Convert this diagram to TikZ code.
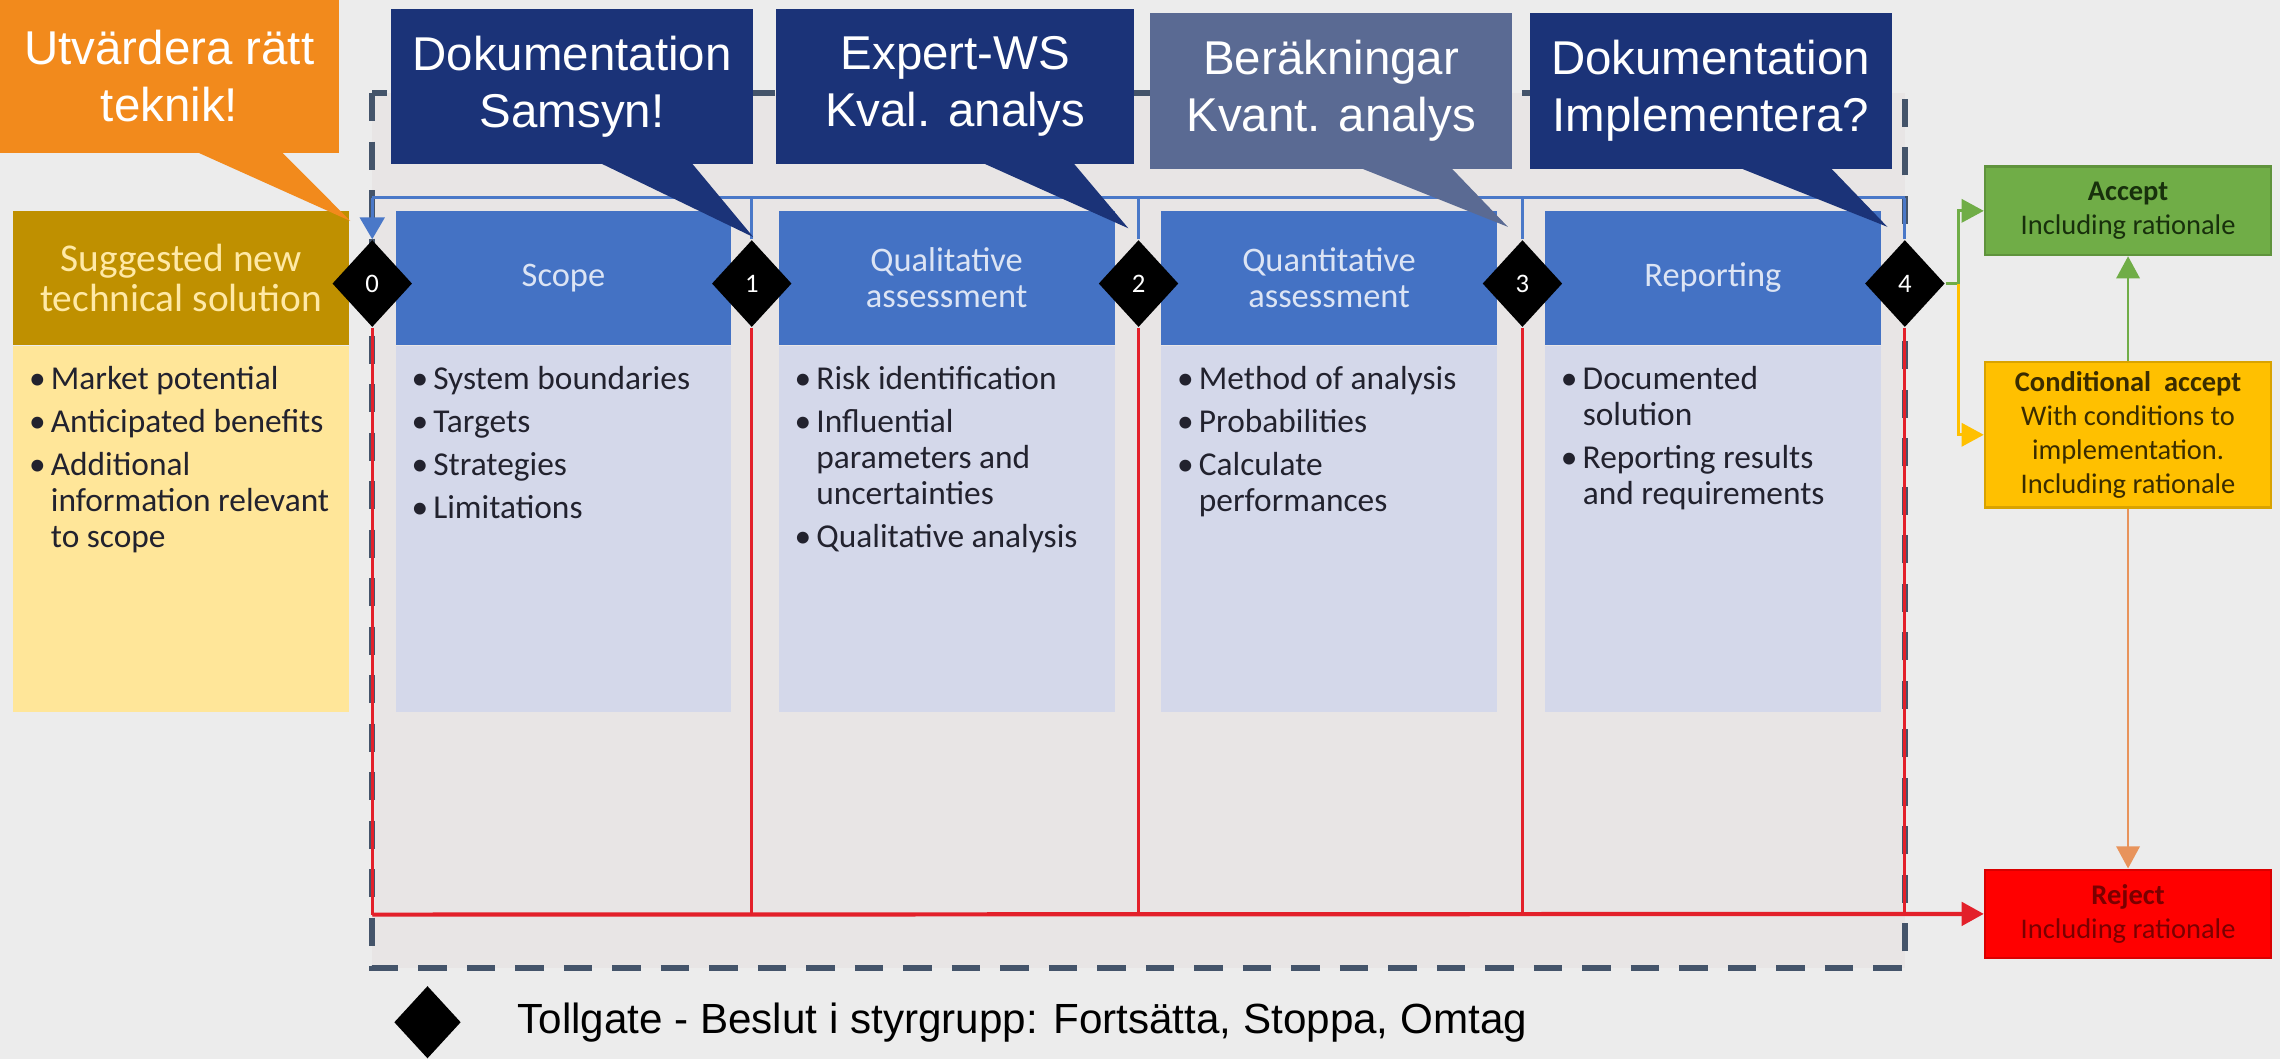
\documentclass[tikz,border=0pt]{standalone}
\usepackage{fontspec}
\setmainfont{Carlito}
\newfontfamily\arialfont{Liberation Sans}
\usetikzlibrary{positioning,calc,arrows.meta,shapes.geometric}

\definecolor{pagecol}{HTML}{ECECEC}
\definecolor{framecol}{HTML}{E8E5E5}
\definecolor{dashcol}{HTML}{44546A}
\definecolor{orangecol}{HTML}{F28A1C}
\definecolor{navycol}{HTML}{1B3378}
\definecolor{slatecol}{HTML}{5A6A93}
\definecolor{headcol}{HTML}{4472C4}
\definecolor{headtextcol}{HTML}{DCE4F4}
\definecolor{bodycol}{HTML}{D4D8EA}
\definecolor{goldcol}{HTML}{BF9000}
\definecolor{goldtextcol}{HTML}{FFE9A6}
\definecolor{sandcol}{HTML}{FFE699}
\definecolor{listcol}{HTML}{22222E}
\definecolor{loopcol}{HTML}{4A78C8}
\definecolor{stopcol}{HTML}{E3202A}
\definecolor{acceptcol}{HTML}{70AD47}
\definecolor{condcol}{HTML}{FFC000}
\definecolor{rejectcol}{HTML}{FF0000}
\definecolor{linkcol}{HTML}{E8935B}
\definecolor{acctextcol}{HTML}{18300C}
\definecolor{condtextcol}{HTML}{3A2C00}
\definecolor{rejtextcol}{HTML}{7A0000}

\newcommand\pxu{0.41373pt}
\newcommand\bul{\makebox[6.2pt][l]{\textbullet}}
\newcommand\ind{\hspace*{6.2pt}}

\tikzset{
  gate/.style={diamond, fill=black, inner sep=0pt, minimum width=55*\pxu, minimum height=60*\pxu, text=white, font=\fontsize{7.6}{8}\selectfont},
  phasehead/.style={rectangle, fill=headcol, inner sep=0pt, minimum width=231*\pxu, minimum height=92*\pxu, text=headtextcol, align=center, font=\fontsize{9.8}{10.3}\selectfont},
  phasebody/.style={rectangle, fill=bodycol, inner sep=0pt, minimum width=231*\pxu, minimum height=252*\pxu},
  itemlist/.style={anchor=north west, inner sep=0pt, align=left, text=listcol, font=\fontsize{9.5}{10.3}\selectfont},
  callbox/.style={rectangle, inner sep=0pt, text=white, align=center, font=\arialfont\fontsize{13.5}{16.3}\selectfont},
  outcome/.style={rectangle, inner sep=0pt, minimum width=197*\pxu, align=center, line width=0.6pt, font=\fontsize{8.1}{9.7}\selectfont},
  loopline/.style={loopcol, line width=0.85pt},
  stopline/.style={stopcol, line width=0.9pt},
  headtip/.style={-{Triangle[length=6.3pt,width=6.6pt]}},
}

\begin{document}
\begin{tikzpicture}[x=0.41373pt, y=-0.41373pt]
\useasboundingbox (0,0) rectangle (1568,728);
\fill[pagecol] (0,0) rectangle (1568,728);

% dashed study frame
\draw[dashcol, fill=framecol, line width=1.7pt, dash pattern=on 8pt off 5.8pt] (256,64) rectangle (1310,666);

% input box and the four phases
\node[phasehead, fill=goldcol, text=goldtextcol, font=\fontsize{11.2}{11.4}\selectfont] (sugg) at (124.5,191) {Suggested new\\technical solution};
\node[phasebody, fill=sandcol, below=0pt of sugg] (suggbody) {};
\node[phasehead] (scope) at (387.5,191) {Scope};
\node[phasebody, below=0pt of scope] (scopebody) {};
\node[phasehead] (qual) at (651,191) {Qualitative\\assessment};
\node[phasebody, below=0pt of qual] (qualbody) {};
\node[phasehead] (quant) at (914,191) {Quantitative\\assessment};
\node[phasebody, below=0pt of quant] (quantbody) {};
\node[phasehead] (rep) at (1178,191) {Reporting};
\node[phasebody, below=0pt of rep] (repbody) {};

\node[itemlist] (sugglist) at ($(suggbody.north west)+(11,14)$) {\bul Market potential\\[1.9pt]
  \bul Anticipated benefits\\[1.9pt]
  \bul Additional\\ \ind information relevant\\ \ind to scope};
\node[itemlist] (scopelist) at ($(scopebody.north west)+(11,14)$) {\bul System boundaries\\[1.9pt]
  \bul Targets\\[1.9pt] \bul Strategies\\[1.9pt] \bul Limitations};
\node[itemlist] (quallist) at ($(qualbody.north west)+(11,14)$) {\bul Risk identification\\[1.9pt]
  \bul Influential\\ \ind parameters and\\ \ind uncertainties\\[1.9pt]
  \bul Qualitative analysis};
\node[itemlist] (quantlist) at ($(quantbody.north west)+(11,14)$) {\bul Method of analysis\\[1.9pt]
  \bul Probabilities\\[1.9pt]
  \bul Calculate\\ \ind performances};
\node[itemlist] (replist) at ($(repbody.north west)+(11,14)$) {\bul Documented\\ \ind solution\\[1.9pt]
  \bul Reporting results\\ \ind and requirements};

% tollgates
\foreach \i/\gx in {0/256,1/517,2/783,3/1047,4/1310}
  \node[gate] (g\i) at (\gx,195) {\i};

% outcomes
\node[outcome, fill=acceptcol, draw=acceptcol!85!black, minimum height=61*\pxu, text=acctextcol] (accept) at (1463.5,145) {\textbf{Accept}\\Including rationale};
\node[outcome, fill=condcol, draw=condcol!85!black, minimum height=100*\pxu, text=condtextcol] (cond) at (1463.5,299) {\textbf{Conditional\ \ accept}\\With conditions to\\implementation.\\Including rationale};
\node[outcome, fill=rejectcol, draw=rejectcol!85!black, minimum height=61*\pxu, text=rejtextcol] (reject) at (1463.5,628.5) {\textbf{Reject}\\Including rationale};

% feedback line on top
\coordinate (loopL) at (256,136);
\coordinate (loopR) at (1310,136);
\draw[loopline] (loopL) -- (loopR);
\draw[loopline, -{Triangle[length=6.2pt,width=7pt]}] (loopL) -- (g0.north);
\foreach \i in {1,...,4}
  \draw[loopline] (g\i.north) -- (g\i.north |- loopL);

% stop lines down to reject
\coordinate (stopL) at (256,629);
\draw[stopline] (g0.south) -- (stopL);
\foreach \i in {1,...,4}
  \draw[stopline] (g\i.south) -- (g\i.south |- stopL);
\draw[stopline, line width=1.2pt, headtip] (stopL) -- (reject.west);

% decisions after gate 4
\coordinate (split) at ($(g4.east)+(9,0)$);
\draw[acceptcol, line width=0.8pt, headtip] (g4.east) -- (split) |- (accept.west);
\draw[condcol, line width=0.8pt, headtip] (split) |- (cond.west);
\draw[acceptcol, line width=0.8pt, headtip] (cond.north) -- (accept.south);
\draw[linkcol, line width=0.8pt, headtip] (cond.south) -- (reject.north);

% callouts
\node[callbox, fill=orangecol, minimum width=233*\pxu, minimum height=105*\pxu] (ask0) at (116.5,52.5) {Utvärdera rätt\\teknik!};
\node[callbox, fill=navycol, minimum width=249*\pxu, minimum height=107*\pxu] (ask1) at (393.5,59.5) {Dokumentation\\Samsyn!};
\node[callbox, fill=navycol, minimum width=246*\pxu, minimum height=107*\pxu] (ask2) at (657,59.5) {Expert-WS\\Kval. analys};
\node[callbox, fill=slatecol, minimum width=249*\pxu, minimum height=107*\pxu] (ask3) at (915.5,62.5) {Beräkningar\\Kvant. analys};
\node[callbox, fill=navycol, minimum width=249*\pxu, minimum height=107*\pxu] (ask4) at (1176.5,62.5) {Dokumentation\\Implementera?};
\foreach \c/\tx/\ty/\col in {ask0/241/152/orangecol, ask1/518/163/navycol, ask2/776/157/navycol, ask3/1037/156/slatecol, ask4/1298/156/navycol}
  \fill[\col] ($(\c.south west)!0.58!(\c.south east)+(0,-1)$) -- (\tx,\ty) -- ($(\c.south west)!0.83!(\c.south east)+(0,-1)$) -- cycle;

% legend
\node[diamond, fill=black, inner sep=0pt, minimum width=46*\pxu, minimum height=50*\pxu] (key) at (294,703) {};
\node[right=15.7pt of key, inner sep=0pt, font=\arialfont\fontsize{12}{14}\selectfont] (keytext) {Tollgate - Beslut i styrgrupp: Fortsätta, Stoppa, Omtag};
\end{tikzpicture}
\end{document}
